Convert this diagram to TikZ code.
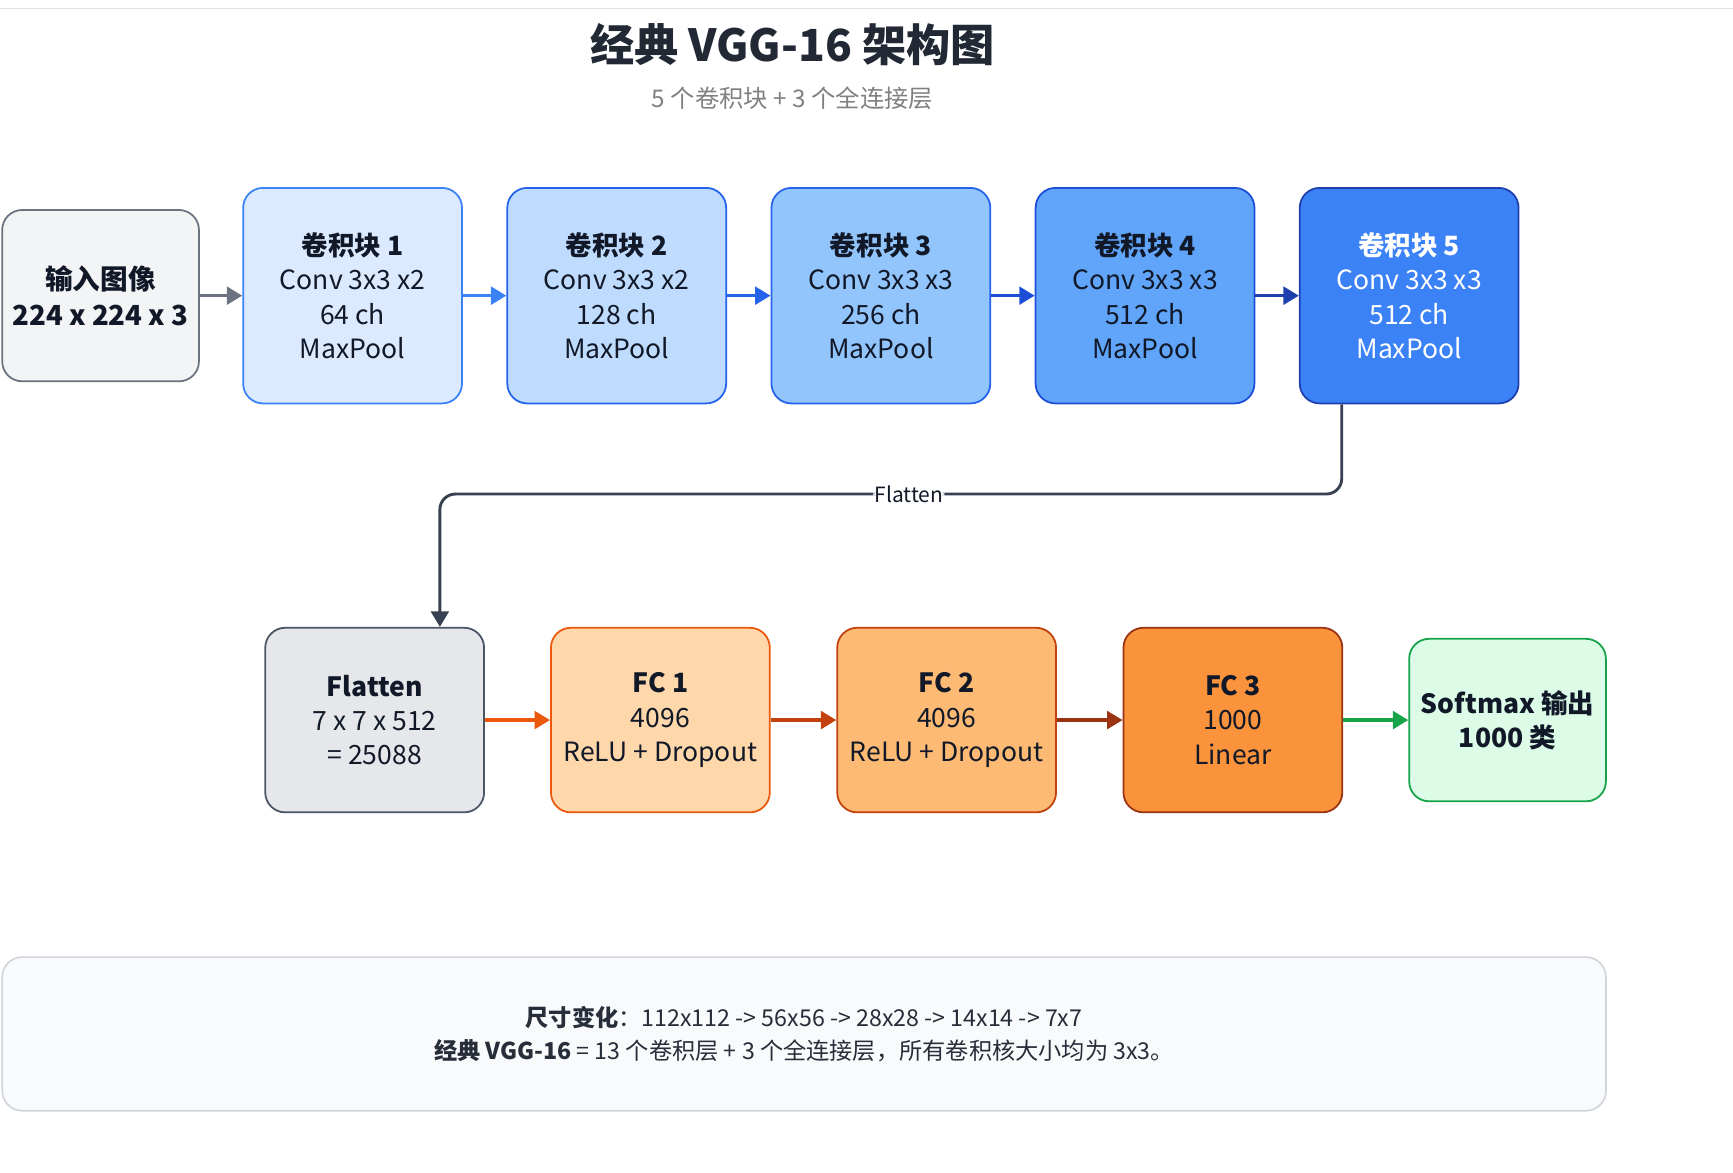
\documentclass[tikz,border=0pt]{standalone}
\usepackage{fontspec}
\setmainfont{Noto Sans CJK SC}
\usetikzlibrary{arrows.meta}
\definecolor{tx}{HTML}{111827}
\definecolor{ci}{HTML}{f3f4f6}\definecolor{di}{HTML}{6b7280}
\definecolor{c1}{HTML}{dbeafe}\definecolor{d1}{HTML}{3b82f6}
\definecolor{c2}{HTML}{bfdbfe}\definecolor{d2}{HTML}{2563eb}
\definecolor{c3}{HTML}{93c5fd}\definecolor{d3}{HTML}{2563eb}
\definecolor{c4}{HTML}{60a5fa}\definecolor{d4}{HTML}{1d4ed8}
\definecolor{c5}{HTML}{3b82f6}\definecolor{d5}{HTML}{1e40af}
\definecolor{cf}{HTML}{e5e7eb}\definecolor{df}{HTML}{4b5563}
\definecolor{e1}{HTML}{fed7aa}\definecolor{g1}{HTML}{ea580c}
\definecolor{e2}{HTML}{fdba74}\definecolor{g2}{HTML}{c2410c}
\definecolor{e3}{HTML}{fb923c}\definecolor{g3}{HTML}{9a3412}
\definecolor{cs}{HTML}{dcfce7}\definecolor{ds}{HTML}{16a34a}
\definecolor{fl}{HTML}{374151}
\definecolor{cn}{HTML}{f8fafc}\definecolor{dn}{HTML}{d1d5db}
\tikzset{x=1pt,y=-1pt,
 blk/.style={draw,line width=1.6pt,rounded corners=18pt,align=center,font=\fontsize{24}{31}\selectfont,text=tx,inner sep=0pt},
 arr/.style={line width=3pt,-{Triangle[length=14pt,width=16pt]}}}
\begin{document}
\begin{tikzpicture}
\useasboundingbox (0,0) rectangle (1568,1061);
\draw[gray!25,line width=1pt] (0,8) -- (1568,8);
\node[font=\fontsize{40}{46}\selectfont\bfseries,text=tx!85!gray] (title) at (717,40) {经典 VGG-16 架构图};
\node[font=\fontsize{22}{26}\selectfont,text=gray] (sub) at (717,89) {5 个卷积块 + 3 个全连接层};
\def\bw{198}\def\bh{195}
\node[blk,fill=ci,draw=di,minimum width=178pt,minimum height=155pt,font=\fontsize{25}{33}\selectfont\bfseries] (in) at (91,267.5) {输入图像\\224 x 224 x 3};
\node[blk,fill=c1,draw=d1,minimum width=\bw pt,minimum height=\bh pt] (b1) at (319,267.5) {\textbf{卷积块 1}\\Conv 3x3 x2\\64 ch\\MaxPool};
\node[blk,fill=c2,draw=d2,minimum width=\bw pt,minimum height=\bh pt] (b2) at (558,267.5) {\textbf{卷积块 2}\\Conv 3x3 x2\\128 ch\\MaxPool};
\node[blk,fill=c3,draw=d3,minimum width=\bw pt,minimum height=\bh pt] (b3) at (797,267.5) {\textbf{卷积块 3}\\Conv 3x3 x3\\256 ch\\MaxPool};
\node[blk,fill=c4,draw=d4,minimum width=\bw pt,minimum height=\bh pt] (b4) at (1036,267.5) {\textbf{卷积块 4}\\Conv 3x3 x3\\512 ch\\MaxPool};
\node[blk,fill=c5,draw=d5,text=white,minimum width=\bw pt,minimum height=\bh pt] (b5) at (1275,267.5) {\textbf{卷积块 5}\\Conv 3x3 x3\\512 ch\\MaxPool};
\draw[arr,di] (in) -- (b1);
\draw[arr,d1] (b1) -- (b2);
\draw[arr,d2] (b2) -- (b3);
\draw[arr,d4] (b3) -- (b4);
\draw[arr,d5] (b4) -- (b5);
\def\ch{167}
\node[blk,fill=cf,draw=df,minimum width=\bw pt,minimum height=\ch pt] (fn) at (339,651.5) {\textbf{Flatten}\\7 x 7 x 512\\= 25088};
\node[blk,fill=e1,draw=g1,minimum width=\bw pt,minimum height=\ch pt] (f1) at (597.5,651.5) {\textbf{FC 1}\\4096\\ReLU + Dropout};
\node[blk,fill=e2,draw=g2,minimum width=\bw pt,minimum height=\ch pt] (f2) at (856.5,651.5) {\textbf{FC 2}\\4096\\ReLU + Dropout};
\node[blk,fill=e3,draw=g3,minimum width=\bw pt,minimum height=\ch pt] (f3) at (1115.5,651.5) {\textbf{FC 3}\\1000\\Linear};
\node[blk,fill=cs,draw=ds,minimum width=178pt,minimum height=147pt,font=\fontsize{24}{31}\selectfont\bfseries] (sm) at (1364,651.5) {Softmax 输出\\1000 类};
\draw[arr,g1] (fn) -- (f1);
\draw[arr,g2] (f1) -- (f2);
\draw[arr,g3] (f2) -- (f3);
\draw[arr,ds] (f3) -- (sm);
\coordinate (k1) at (1214,447);
\coordinate (k2) at (398,447);
\draw[arr,line width=2.6pt,fl,rounded corners=14pt] (b5.south -| k1) -- (k1) -- node[pos=0.48,fill=white,inner sep=1pt,text=tx,font=\fontsize{19}{22}\selectfont]{Flatten} (k2) -- (k2 |- fn.north);
\node[draw=dn,line width=1.5pt,fill=cn,rounded corners=18pt,minimum width=1451pt,minimum height=139pt,align=center,font=\fontsize{21}{30}\selectfont,text=tx!80!gray] (note) at (727.5,935.5) {\textbf{尺寸变化}：112x112 -> 56x56 -> 28x28 -> 14x14 -> 7x7\\\textbf{经典 VGG-16} = 13 个卷积层 + 3 个全连接层，所有卷积核大小均为 3x3。};
\end{tikzpicture}
\end{document}
